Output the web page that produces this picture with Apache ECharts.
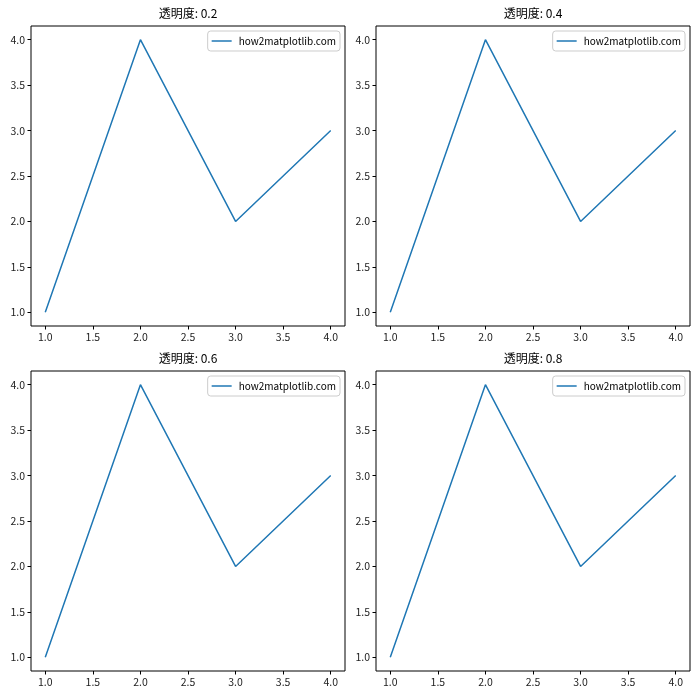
<!DOCTYPE html>
<html>
<head>
<meta charset="utf-8">
<script src="https://cdn.jsdelivr.net/npm/echarts@6/dist/echarts.min.js"></script>
<style>html,body{margin:0;padding:0;background:#fff}#c{width:700px;height:700px}</style>
</head>
<body>
<div id="c"></div>
<script>
const xValues = [1, 2, 3, 4];
const yValues = [1, 4, 2, 3];
const alphas = [0.2, 0.4, 0.6, 0.8];
const tickValues = [1.0, 1.5, 2.0, 2.5, 3.0, 3.5, 4.0];
const seriesName = 'how2matplotlib.com';
const titlePrefix = '透明度: ';

const FONT = '"Noto Sans CJK SC", "DejaVu Sans", sans-serif';
const grids = [
  {left: 31, top: 26},
  {left: 376, top: 26},
  {left: 31, top: 371},
  {left: 376, top: 371}
];
const W = 314, H = 300;

const option = {
  animation: false,
  backgroundColor: '#fff',
  textStyle: {fontFamily: FONT},
  title: [], grid: [], xAxis: [], yAxis: [], series: [], legend: []
};

function axisCommon(idx) {
  return {
    type: 'value', gridIndex: idx, min: 0.85, max: 4.15,
    splitLine: {show: false},
    axisLine: {show: false},
    axisTick: {show: true, length: 3.5, inside: false, lineStyle: {color: '#000', width: 1}, customValues: tickValues},
    axisLabel: {show: true, margin: 6, color: '#222', fontSize: 10.5, fontFamily: FONT, customValues: tickValues,
      formatter: v => Number(v).toFixed(1)}
  };
}

alphas.forEach((a, i) => {
  const g = grids[i];
  option.grid.push({left: g.left, top: g.top, width: W, height: H, show: true, borderColor: '#000', borderWidth: 1, backgroundColor: 'transparent', containLabel: false});
  option.title.push({text: titlePrefix + a, left: g.left + W / 2, top: g.top - 19, textAlign: 'center', padding: 0,
    textStyle: {fontSize: 12, fontWeight: 'normal', color: '#000', fontFamily: FONT}});
  const xa = axisCommon(i); xa.position = 'bottom';
  const ya = axisCommon(i); ya.position = 'left';
  option.xAxis.push(xa);
  option.yAxis.push(ya);
  option.series.push({
    type: 'line', name: seriesName, xAxisIndex: i, yAxisIndex: i,
    data: xValues.map((x, k) => [x, yValues[k]]),
    symbol: 'none', lineStyle: {color: '#1f77b4', width: 1.5}, itemStyle: {color: '#1f77b4'}
  });
  option.legend.push({
    data: [{name: seriesName, icon: 'rect'}],
    right: 700 - (g.left + W - 5), top: g.top + 5,
    orient: 'vertical',
    itemWidth: 20, itemHeight: 1.5,
    padding: [5, 4, 5, 4],
    borderColor: '#ccc', borderWidth: 1, borderRadius: 3,
    backgroundColor: 'rgba(255,255,255,0.8)',
    selectedMode: false,
    textStyle: {fontSize: 10, color: '#000', fontFamily: FONT, padding: [0, 0, 0, 2]}
  });
});

const chart = echarts.init(document.getElementById('c'), null, {renderer: 'canvas'});
chart.setOption(option);
</script>
</body>
</html>
